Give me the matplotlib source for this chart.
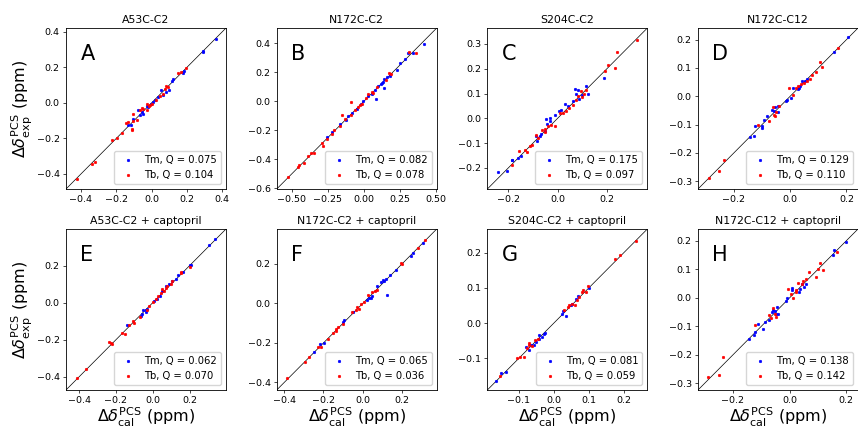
import matplotlib
matplotlib.use('Agg')
import matplotlib.pyplot as plt

# font sizes are scaled down to fit the 858x429 output
plt.rcParams['font.size'] = 6.8
plt.rcParams['axes.linewidth'] = 0.6
plt.rcParams['xtick.major.size'] = 2.2
plt.rcParams['ytick.major.size'] = 2.2
plt.rcParams['xtick.major.width'] = 0.5
plt.rcParams['ytick.major.width'] = 0.5
plt.rcParams['xtick.major.pad'] = 2.2
plt.rcParams['ytick.major.pad'] = 2.2

titles = ['A53C-C2', 'N172C-C2', 'S204C-C2', 'N172C-C12',
          'A53C-C2 + captopril', 'N172C-C2 + captopril',
          'S204C-C2 + captopril', 'N172C-C12 + captopril']
letters = ['A', 'B', 'C', 'D', 'E', 'F', 'G', 'H']
q_tm = [0.075, 0.082, 0.175, 0.129, 0.062, 0.065, 0.081, 0.138]
q_tb = [0.104, 0.078, 0.097, 0.110, 0.070, 0.036, 0.059, 0.142]

# axis ranges (same for x and y) and ticks of each panel
lims = [(-0.485, 0.422), (-0.606, 0.505), (-0.285, 0.364), (-0.328, 0.241),
        (-0.471, 0.398), (-0.438, 0.376), (-0.19, 0.267), (-0.323, 0.241)]
xticks = [[-0.4, -0.2, 0.0, 0.2, 0.4], [-0.5, -0.25, 0.0, 0.25, 0.5],
          [-0.2, 0.0, 0.2], [-0.2, 0.0, 0.2],
          [-0.4, -0.2, 0.0, 0.2], [-0.4, -0.2, 0.0, 0.2],
          [-0.1, 0.0, 0.1, 0.2], [-0.2, 0.0, 0.2]]
yticks = [[-0.4, -0.2, 0.0, 0.2, 0.4], [-0.6, -0.4, -0.2, 0.0, 0.2, 0.4],
          [-0.2, -0.1, 0.0, 0.1, 0.2, 0.3], [-0.3, -0.2, -0.1, 0.0, 0.1, 0.2],
          [-0.4, -0.2, 0.0, 0.2], [-0.4, -0.2, 0.0, 0.2],
          [-0.1, 0.0, 0.1, 0.2], [-0.3, -0.2, -0.1, 0.0, 0.1, 0.2]]

# ---- A53C-C2
a_tm_cal = [0.364, 0.29, 0.29, 0.183, 0.178, 0.121, 0.118, 0.097, 0.065, 0.019, 0.009, -0.028,
            -0.047, -0.065, -0.075, -0.103, -0.136, -0.114, 0.037, 0.084, 0.056, -0.019, -0.056, -0.004]
a_tm_exp = [0.362, 0.294, 0.286, 0.18, 0.171, 0.135, 0.125, 0.072, 0.044, 0.019, 0.006, -0.019,
            -0.061, -0.07, -0.042, -0.089, -0.127, -0.127, 0.034, 0.063, 0.072, -0.023, -0.051, -0.008]
a_tb_cal = [-0.42, -0.336, -0.318, -0.224, -0.196, -0.168, -0.112, -0.112, -0.103, -0.084, -0.107,
            -0.065, -0.047, -0.028, -0.015, -0.006, 0.0, 0.028, 0.047, 0.065, 0.075, 0.093, 0.084,
            0.15, 0.196, 0.168, -0.056, -0.028, -0.131, -0.144]
a_tb_exp = [-0.427, -0.345, -0.33, -0.209, -0.199, -0.169, -0.155, -0.146, -0.102, -0.095, -0.061,
            -0.042, -0.032, -0.038, -0.019, -0.013, -0.004, 0.015, 0.038, 0.053, 0.076, 0.087, 0.095,
            0.167, 0.195, 0.176, -0.027, -0.004, -0.108, -0.114]

# ---- N172C-C2
b_tm_cal = [0.417, 0.343, 0.308, 0.285, 0.25, 0.227, 0.181, 0.141, 0.134, 0.118, 0.1, 0.076, 0.139,
            0.081, 0.03, -0.021, -0.051, -0.086, -0.109, -0.127, -0.167, -0.22, -0.259, 0.053,
            -0.005, 0.123, 0.162]
b_tm_exp = [0.396, 0.336, 0.331, 0.289, 0.262, 0.215, 0.174, 0.15, 0.134, 0.118, 0.104, 0.076, 0.088,
            0.012, 0.035, -0.021, -0.051, -0.081, -0.104, -0.132, -0.16, -0.213, -0.248, 0.053,
            0.002, 0.123, 0.164]
b_tb_cal = [-0.53, -0.461, -0.449, -0.414, -0.387, -0.368, -0.35, -0.294, -0.287, -0.255, -0.22,
            -0.206, -0.167, -0.155, -0.132, -0.09, -0.09, -0.063, -0.044, -0.028, 0.012, 0.03, 0.053,
            0.088, 0.153, 0.174, 0.188, 0.315, 0.359, 0.065, -0.016]
b_tb_exp = [-0.521, -0.456, -0.438, -0.428, -0.375, -0.359, -0.359, -0.289, -0.306, -0.259, -0.229,
            -0.201, -0.174, -0.097, -0.12, -0.005, -0.097, -0.063, -0.039, -0.028, 0.025, 0.053, 0.065,
            0.095, 0.146, 0.197, 0.188, 0.338, 0.331, 0.058, -0.016]

# ---- S204C-C2
c_tm_cal = [-0.243, -0.207, -0.187, -0.183, -0.16, -0.147, -0.089, -0.083, -0.073, -0.066, -0.05,
            -0.046, -0.032, -0.03, -0.043, -0.012, 0.015, 0.028, 0.042, 0.062, 0.071, 0.082, 0.086,
            0.099, 0.116, 0.122, 0.187, 0.075, 0.005]
c_tm_exp = [-0.215, -0.214, -0.169, -0.167, -0.16, -0.153, -0.07, -0.093, -0.073, -0.063, -0.052,
            -0.003, 0.001, -0.012, -0.022, 0.015, 0.032, 0.059, 0.048, 0.069, 0.118, 0.113, 0.078,
            0.095, 0.132, 0.099, 0.163, 0.099, 0.028]
c_tb_cal = [-0.184, -0.156, -0.133, -0.126, -0.113, -0.103, -0.079, -0.062, -0.052, -0.039, -0.012,
            -0.026, 0.011, 0.022, 0.035, 0.048, 0.062, 0.073, 0.082, 0.095, 0.105, 0.116, 0.192,
            0.203, 0.231, 0.241, 0.32, -0.086, -0.052, 0.098]
c_tb_exp = [-0.188, -0.133, -0.129, -0.137, -0.113, -0.106, -0.079, -0.048, -0.056, -0.032, -0.032,
            -0.026, 0.022, 0.022, 0.031, 0.042, 0.055, 0.075, 0.089, 0.109, 0.099, 0.116, 0.19,
            0.214, 0.203, 0.269, 0.315, -0.066, -0.043, 0.085]

# ---- N172C-C12
d_tm_cal = [0.204, 0.154, 0.06, 0.054, 0.042, 0.036, 0.028, 0.009, -0.011, -0.016, -0.042, -0.054,
            -0.064, -0.058, -0.042, -0.081, -0.093, -0.099, -0.101, -0.125, -0.128, -0.144, 0.031,
            0.001]
d_tm_exp = [0.211, 0.156, 0.062, 0.052, 0.052, 0.037, 0.025, 0.029, -0.012, -0.018, -0.034, -0.038,
            -0.048, -0.054, -0.057, -0.071, -0.085, -0.106, -0.112, -0.106, -0.142, -0.145, 0.029,
            -0.006]
d_tb_cal = [-0.29, -0.252, -0.236, -0.116, -0.075, -0.058, -0.054, -0.06, -0.04, -0.005, 0.009,
            0.019, 0.028, 0.048, 0.06, 0.069, 0.078, 0.093, 0.107, 0.114, 0.169, -0.052, 0.04]
d_tb_exp = [-0.289, -0.265, -0.224, -0.101, -0.089, -0.065, -0.071, -0.038, -0.036, 0.029, 0.005,
            0.029, 0.037, 0.046, 0.052, 0.061, 0.076, 0.084, 0.122, 0.104, 0.17, -0.056, 0.044]

# ---- A53C-C2 + captopril
e_tm_cal = [0.339, 0.306, 0.21, 0.204, 0.165, 0.138, 0.124, 0.088, 0.07, 0.039, 0.025, 0.007,
            -0.038, -0.052, -0.038, -0.059, -0.065, -0.029, -0.142, 0.052, 0.106]
e_tm_exp = [0.344, 0.314, 0.206, 0.201, 0.168, 0.151, 0.129, 0.099, 0.088, 0.034, 0.022, 0.009,
            -0.041, -0.041, -0.05, -0.059, -0.073, -0.032, -0.118, 0.066, 0.12]
e_tb_cal = [-0.41, -0.364, -0.235, -0.226, -0.22, -0.167, -0.149, -0.127, -0.109, -0.1, -0.068,
            -0.029, 0.002, 0.016, 0.03, 0.043, 0.052, 0.07, 0.079, 0.097, 0.106, 0.151, 0.156, 0.204,
            0.061, -0.02]
e_tb_exp = [-0.405, -0.355, -0.211, -0.22, -0.224, -0.163, -0.167, -0.122, -0.099, -0.108, -0.077,
            -0.041, 0.004, 0.022, 0.034, 0.052, 0.072, 0.081, 0.093, 0.099, 0.116, 0.159, 0.165, 0.192,
            0.066, -0.02]

# ---- N172C-C2 + captopril
f_tm_cal = [0.305, 0.255, 0.245, 0.171, 0.136, 0.116, 0.104, 0.091, 0.074, 0.124, 0.049, 0.032,
            0.02, -0.052, -0.097, -0.102, -0.195, -0.22, -0.248, 0.107, 0.04]
f_tm_exp = [0.304, 0.253, 0.237, 0.169, 0.144, 0.124, 0.116, 0.107, 0.086, 0.04, 0.035, 0.027,
            0.018, -0.044, -0.086, -0.094, -0.2, -0.203, -0.245, 0.112, 0.029]
f_tb_cal = [-0.384, -0.295, -0.275, -0.228, -0.211, -0.178, -0.153, -0.136, -0.124, -0.102, -0.057,
            -0.027, -0.018, -0.035, -0.01, 0.027, 0.049, 0.06, 0.07, 0.195, 0.2, 0.279, 0.317, -0.136,
            0.007]
f_tb_exp = [-0.379, -0.295, -0.273, -0.22, -0.22, -0.178, -0.149, -0.128, -0.119, -0.102, -0.044,
            -0.018, -0.027, -0.035, -0.005, 0.04, 0.057, 0.065, 0.07, 0.203, 0.2, 0.28, 0.32, -0.139,
            0.007]

# ---- S204C-C2 + captopril
g_tm_cal = [-0.164, -0.15, -0.138, -0.079, -0.072, -0.065, -0.058, -0.043, -0.042, -0.034, -0.027,
            -0.025, 0.023, 0.027, 0.034, 0.048, 0.053, 0.062, 0.07, 0.1, -0.051]
g_tm_exp = [-0.165, -0.143, -0.138, -0.067, -0.077, -0.063, -0.063, -0.044, -0.034, -0.039, -0.032,
            -0.028, 0.027, 0.034, 0.021, 0.05, 0.055, 0.067, 0.076, 0.1, -0.053]
g_tb_cal = [-0.153, -0.106, -0.098, -0.084, -0.077, -0.072, -0.07, -0.053, -0.046, 0.029, 0.039,
            0.043, 0.051, 0.06, 0.067, 0.072, 0.081, 0.083, 0.092, 0.098, 0.175, 0.19, 0.234, -0.062]
g_tb_exp = [-0.15, -0.1, -0.096, -0.096, -0.072, -0.063, -0.058, -0.049, -0.044, 0.036, 0.046,
            0.05, 0.055, 0.05, 0.065, 0.074, 0.088, 0.093, 0.088, 0.104, 0.182, 0.192, 0.234, -0.066]

# ---- N172C-C12 + captopril
h_tm_cal = [0.199, 0.156, 0.152, 0.059, 0.05, 0.036, 0.033, 0.009, 0.009, -0.014, -0.01, -0.045,
            -0.06, -0.053, -0.063, -0.049, -0.042, -0.074, -0.088, -0.095, -0.112, -0.123, -0.127,
            -0.144, 0.042]
h_tm_exp = [0.194, 0.167, 0.151, 0.047, 0.037, 0.031, 0.02, 0.035, 0.028, -0.012, 0.0, -0.033,
            -0.042, -0.047, -0.05, -0.056, -0.058, -0.079, -0.085, -0.108, -0.091, -0.12, -0.131,
            -0.143, 0.047]
h_tb_cal = [-0.287, -0.249, -0.235, -0.121, -0.074, -0.065, -0.057, -0.053, -0.049, -0.005, 0.013,
            0.021, 0.03, 0.042, 0.048, 0.056, 0.067, 0.094, 0.1, 0.106, 0.117, 0.167, 0.022, 0.005]
h_tb_exp = [-0.279, -0.271, -0.207, -0.097, -0.062, -0.07, -0.035, -0.058, -0.067, 0.031, 0.0,
            0.028, 0.051, 0.047, 0.058, 0.066, 0.09, 0.072, 0.101, 0.122, 0.099, 0.159, 0.02, 0.014]

tm_cal = [a_tm_cal, b_tm_cal, c_tm_cal, d_tm_cal, e_tm_cal, f_tm_cal, g_tm_cal, h_tm_cal]
tm_exp = [a_tm_exp, b_tm_exp, c_tm_exp, d_tm_exp, e_tm_exp, f_tm_exp, g_tm_exp, h_tm_exp]
tb_cal = [a_tb_cal, b_tb_cal, c_tb_cal, d_tb_cal, e_tb_cal, f_tb_cal, g_tb_cal, h_tb_cal]
tb_exp = [a_tb_exp, b_tb_exp, c_tb_exp, d_tb_exp, e_tb_exp, f_tb_exp, g_tb_exp, h_tb_exp]

fig = plt.figure(figsize=(8.58, 4.29), dpi=100)

lefts = [0.0769, 0.3225, 0.568, 0.8135]
bottoms = [0.5594, 0.0909]
w, h = 0.1865, 0.3753

for i in range(8):
    row, col = divmod(i, 4)
    ax = fig.add_axes([lefts[col], bottoms[row], w, h])
    ax.plot([0, 1], [0, 1], transform=ax.transAxes, color='k', lw=0.5, zorder=1)
    ax.plot(tm_cal[i], tm_exp[i], '.', color='blue', ms=3.5, mew=0.5,
            label='Tm, Q = %.3f' % q_tm[i], zorder=3)
    ax.plot(tb_cal[i], tb_exp[i], '.', color='red', ms=3.5, mew=0.5,
            label='Tb, Q = %.3f' % q_tb[i], zorder=3)
    ax.set_xlim(lims[i])
    ax.set_ylim(lims[i])
    ax.set_xticks(xticks[i])
    ax.set_yticks(yticks[i])
    ax.set_title(titles[i], fontsize=7.8, pad=3.8)
    ax.text(0.09, 0.8, letters[i], transform=ax.transAxes, fontsize=15)
    ax.legend(loc='lower right', fontsize=7.2, handletextpad=0.6)
    if col == 0:
        ax.set_ylabel(r'$\Delta\delta^{\rm PCS}_{\rm exp}$ (ppm)', fontsize=11.5, labelpad=1)
    if row == 1:
        ax.set_xlabel(r'$\Delta\delta^{\rm PCS}_{\rm cal}$ (ppm)', fontsize=11.5, labelpad=0.5)

fig.savefig('out.png', dpi=100)
